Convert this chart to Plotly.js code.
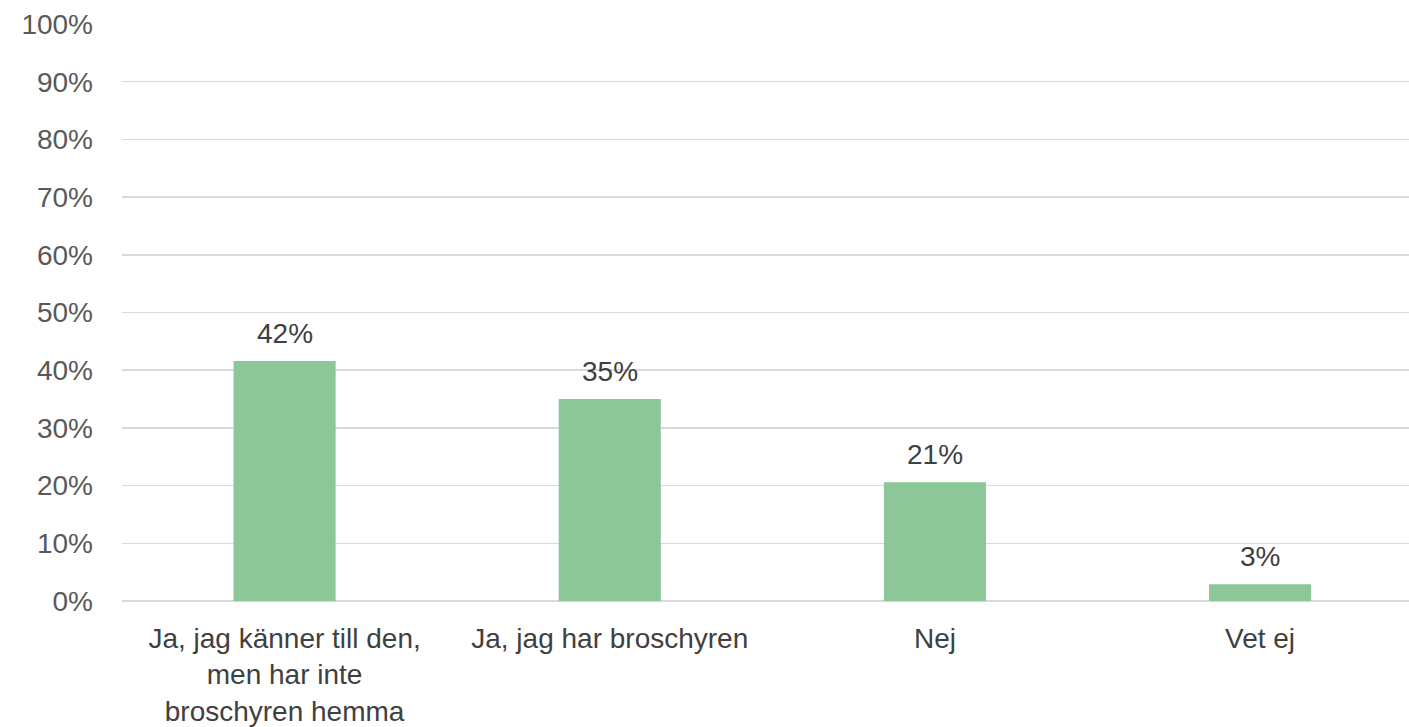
<!DOCTYPE html>
<html>
<head>
<meta charset="utf-8">
<script src="https://cdn.plot.ly/plotly-3.0.1.min.js"></script>
<style>html,body{margin:0;padding:0;background:#fff;}#chart{width:1409px;height:727px;}</style>
</head>
<body>
<div id="chart"></div>
<script>
const categories = ["Ja, jag känner till den,<br>men har inte<br>broschyren hemma", "Ja, jag har broschyren", "Nej", "Vet ej"];
const values = [41.6, 35.0, 20.6, 2.9];
const tickVals = [0, 10, 20, 30, 40, 50, 60, 70, 80, 90, 100];
const tickText = ["0%", "10%", "20%", "30%", "40%", "50%", "60%", "70%", "80%", "90%", "100%"];

const fontFam = "'Liberation Sans', 'Open Sans', Arial, sans-serif";

const annotations = categories.map((c, i) => ({
  x: c, y: values[i], xref: 'x', yref: 'y',
  text: Math.round(values[i]) + '%',
  showarrow: false,
  yanchor: 'bottom',
  yshift: 10,
  font: {family: fontFam, size: 28, color: '#404040'}
}));

Plotly.newPlot('chart', [{
  type: 'bar',
  x: categories,
  y: values,
  marker: {color: '#8DC799'},
  hoverinfo: 'none'
}], {
  width: 1409, height: 727,
  margin: {l: 122, r: 0, t: 24, b: 126},
  paper_bgcolor: '#fff', plot_bgcolor: '#fff',
  bargap: 0.686,
  showlegend: false,
  annotations: annotations,
  font: {family: fontFam, size: 28, color: '#595959'},
  xaxis: {
    type: 'category',
    range: [-0.5, 3.458],
    showgrid: false,
    showline: false,
    zeroline: false,
    ticks: '',
    ticklabelstandoff: 18,
    tickfont: {family: fontFam, size: 28, color: '#404040'}
  },
  yaxis: {
    range: [0, 100],
    tickvals: tickVals,
    ticktext: tickText,
    showgrid: true,
    gridcolor: '#D9D9D9',
    gridwidth: 1.5,
    zeroline: true,
    zerolinecolor: '#D9D9D9',
    zerolinewidth: 1.5,
    showline: false,
    ticks: '',
    ticklabelstandoff: 28,
    tickfont: {family: fontFam, size: 28, color: '#595959'}
  }
}, {displayModeBar: false, staticPlot: true});
</script>
</body>
</html>
